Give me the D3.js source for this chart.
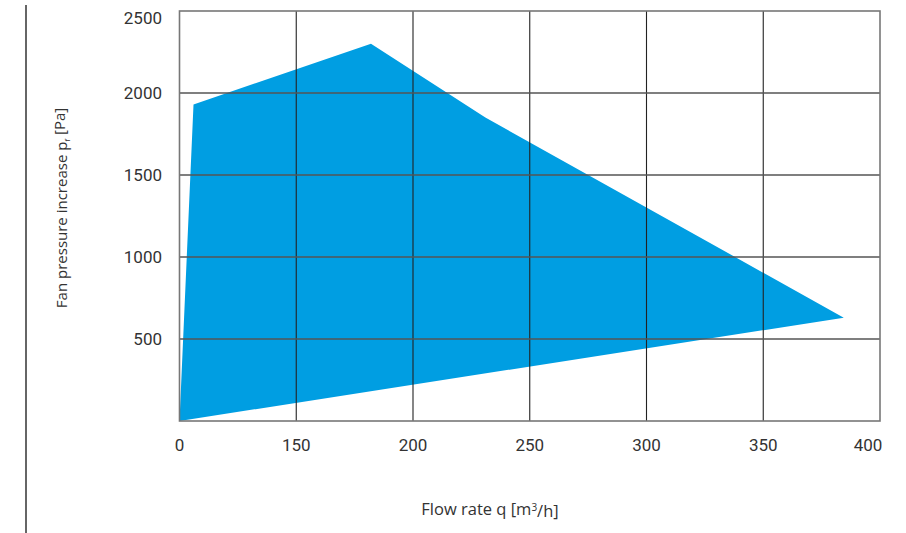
<!DOCTYPE html>
<html>
<head>
<meta charset="utf-8">
<script src="https://cdn.jsdelivr.net/npm/d3@7"></script>
<style>
    body { margin: 0; background: #fff; }
    svg text { font-family: Roboto, "DejaVu Sans", sans-serif; fill: #333; }
</style>
</head>
<body>
<div id="chart"></div>
<script>
// operating range of the fan (outline of the blue area)
const flowRate = [0, 18, 182, 231, 384.5];
const pressureUpper = [0, 1930, 2300, 1850, 630];
const xTicks = [0, 150, 200, 250, 300, 350, 400];
const yTicks = [500, 1000, 1500, 2000, 2500];

const width = 906,
    height = 533;
const margin = { top: 11, right: 26, bottom: 112, left: 179.5 };

const svg = d3.select("#chart").append("svg")
    .attr("width", width)
    .attr("height", height);

const x = d3.scaleLinear()
    .domain(xTicks)
    .range(xTicks.map((d, i) => margin.left + i * (width - margin.right - margin.left) / (xTicks.length - 1)));

const y = d3.scaleLinear()
    .domain([0, 2500])
    .range([height - margin.bottom, margin.top]);

// polygon: upper curve then straight back along the lower edge to the origin
const outline = flowRate.map((d, i) => [d, pressureUpper[i]]);

svg.append("path")
    .datum(outline)
    .attr("d", d3.line().x(d => x(d[0])).y(d => y(d[1])).curve(d3.curveLinearClosed))
    .style("fill", "#009ee2");

// grid
svg.append("g")
    .selectAll("line")
    .data(xTicks.slice(1, -1))
    .enter().append("line")
    .attr("x1", d => x(d)).attr("x2", d => x(d))
    .attr("y1", y(2500)).attr("y2", y(0))
    .style("stroke", "#222")
    .style("stroke-width", 1.1);

svg.append("g")
    .selectAll("line")
    .data(yTicks.slice(0, -1))
    .enter().append("line")
    .attr("x1", x(0)).attr("x2", x(400))
    .attr("y1", d => y(d)).attr("y2", d => y(d))
    .style("stroke", "#555")
    .style("stroke-width", 1.4);

svg.append("rect")
    .attr("x", x(0)).attr("y", y(2500))
    .attr("width", x(400) - x(0))
    .attr("height", y(0) - y(2500))
    .style("fill", "none")
    .style("stroke", "#777")
    .style("stroke-width", 1.6);

// tick labels
svg.append("g")
    .selectAll("text")
    .data(xTicks)
    .enter().append("text")
    .attr("x", (d, i) => i === xTicks.length - 1 ? x(d) - 12 : x(d))
    .attr("y", 445)
    .attr("dy", ".35em")
    .style("text-anchor", "middle")
    .style("font-size", "17px")
    .text(d => d);

svg.append("g")
    .selectAll("text")
    .data(yTicks)
    .enter().append("text")
    .attr("x", 162)
    .attr("y", d => Math.max(y(d), 18))
    .attr("dy", ".35em")
    .style("text-anchor", "end")
    .style("font-size", "17px")
    .text(d => d);

// axis titles
const xTitle = svg.append("text")
    .attr("x", 490)
    .attr("y", 509)
    .attr("dy", ".35em")
    .style("text-anchor", "middle")
    .style("font-size", "16.5px")
    .style("font-family", "'Open Sans', sans-serif");
xTitle.append("tspan").text("Flow rate q [m");
xTitle.append("tspan").attr("dy", "-0.4em").style("font-size", "10px").text("3");
xTitle.append("tspan").attr("dy", "0.4em").text("/h]");

const yTitle = svg.append("text")
    .attr("transform", "translate(62,208) rotate(-90)")
    .attr("dy", ".35em")
    .style("text-anchor", "middle")
    .style("font-size", "15px")
    .style("font-family", "'Open Sans', sans-serif");
yTitle.append("tspan").text("Fan pressure increase p");
yTitle.append("tspan").attr("dy", "0.35em").style("font-size", "8px").text("f");
yTitle.append("tspan").attr("dy", "-0.35em").text(" [Pa]");

// page margin line on the left
svg.append("line")
    .attr("x1", 26).attr("x2", 26)
    .attr("y1", 5).attr("y2", height)
    .style("stroke", "#666")
    .style("stroke-width", 2);
</script>
</body>
</html>
